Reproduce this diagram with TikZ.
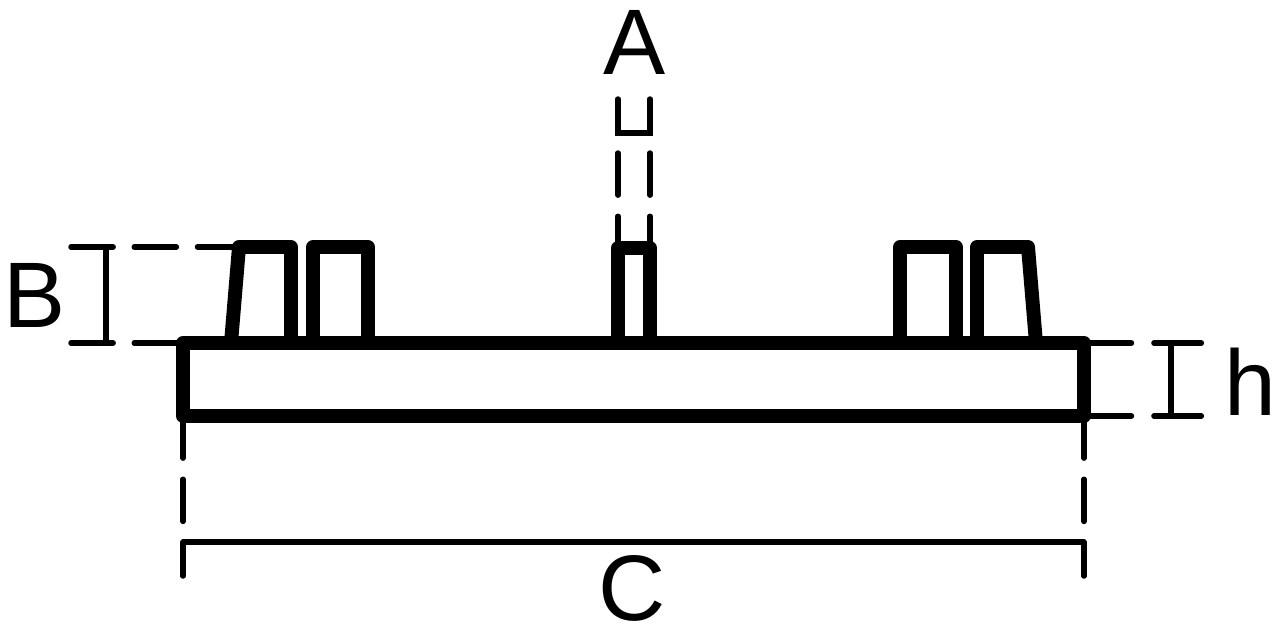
\documentclass[tikz,border=0pt]{standalone}
\usepackage{fontspec}
\setmainfont{Liberation Sans}
\begin{document}
\begin{tikzpicture}
        [x=0.02cm, y=-0.02cm,
        plate/.style={black, line width=14*0.5669pt, line join=round},
        tooth/.style={black, line width=14*0.5669pt, line join=round},
        dimline/.style={black, line width=5.5*0.5669pt, line cap=round},
        dimdash/.style={dimline, dash pattern=on 24pt off 12pt},
        platedash/.style={dimline, dash pattern=on 27pt off 12.8pt},
        letter/.style={inner sep=0pt, font=\fontsize{53}{53}\selectfont}]

        \useasboundingbox (0,0) rectangle (1280,626);

        % corners of the plate
        \coordinate (p1) at (183,343);
        \coordinate (p2) at (1084,343);
        \coordinate (p3) at (1084,416);
        \coordinate (p4) at (183,416);

        % teeth
        \coordinate (t1a) at (231,343);
        \coordinate (t1b) at (239,247);
        \coordinate (t1c) at (291,247);
        \coordinate (t1d) at (291,343);
        \coordinate (t2a) at (313,343);
        \coordinate (t2b) at (313,247);
        \coordinate (t2c) at (368,247);
        \coordinate (t2d) at (368,343);
        \coordinate (t3a) at (618,343);
        \coordinate (t3b) at (618,248);
        \coordinate (t3c) at (650,248);
        \coordinate (t3d) at (650,343);
        \coordinate (t4a) at (900,343);
        \coordinate (t4b) at (900,247);
        \coordinate (t4c) at (956,247);
        \coordinate (t4d) at (956,343);
        \coordinate (t5a) at (977,343);
        \coordinate (t5b) at (977,247);
        \coordinate (t5c) at (1028,247);
        \coordinate (t5d) at (1036,343);

        \draw[plate] (p1) -- (p2) -- (p3) -- (p4) -- cycle;
        \draw[tooth] (t1a) -- (t1b) -- (t1c) -- (t1d);
        \draw[tooth] (t2a) -- (t2b) -- (t2c) -- (t2d);
        \draw[tooth] (t3a) -- (t3b) -- (t3c) -- (t3d);
        \draw[tooth] (t4a) -- (t4b) -- (t4c) -- (t4d);
        \draw[tooth] (t5a) -- (t5b) -- (t5c) -- (t5d);

        % dimension A
        \coordinate (a1) at (618,99);
        \coordinate (a2) at (618,133);
        \coordinate (a3) at (650,133);
        \coordinate (a4) at (650,99);
        \coordinate (a5) at (618,153);
        \coordinate (a6) at (650,153);
        \draw[dimline] (a1) -- (a2) -- (a3) -- (a4);
        \draw[dimdash] (a5) -- (t3b);
        \draw[dimdash] (a6) -- (t3c);
        \node[letter] (labelA) at (635,42) {A};

        % dimension B
        \coordinate (b1) at (71,247);
        \coordinate (b2) at (71,343);
        \coordinate (b3) at (106,247);
        \coordinate (b4) at (106,343);
        \draw[dimdash] (b1) -- (t1b);
        \draw[dimdash] (b2) -- (p1);
        \draw[dimline] (b3) -- (b4);
        \node[letter] (labelB) at (35,295) {B};

        % dimension h
        \coordinate (h1) at (1203,343);
        \coordinate (h2) at (1203,416);
        \coordinate (h3) at (1171,343);
        \coordinate (h4) at (1171,416);
        \draw[platedash] (p2) -- (h1);
        \draw[platedash] (p3) -- (h2);
        \draw[dimline] (h3) -- (h4);
        \node[letter] (labelh) at (1250,382) {h};

        % dimension C
        \coordinate (c1) at (183,576);
        \coordinate (c2) at (1084,576);
        \coordinate (c3) at (183,542);
        \coordinate (c4) at (1084,542);
        \draw[dimdash] (p4) -- (c1);
        \draw[dimdash] (p3) -- (c2);
        \draw[dimline] (c3) -- (c4);
        \node[letter] (labelC) at (632,588) {C};

\end{tikzpicture}
\end{document}
